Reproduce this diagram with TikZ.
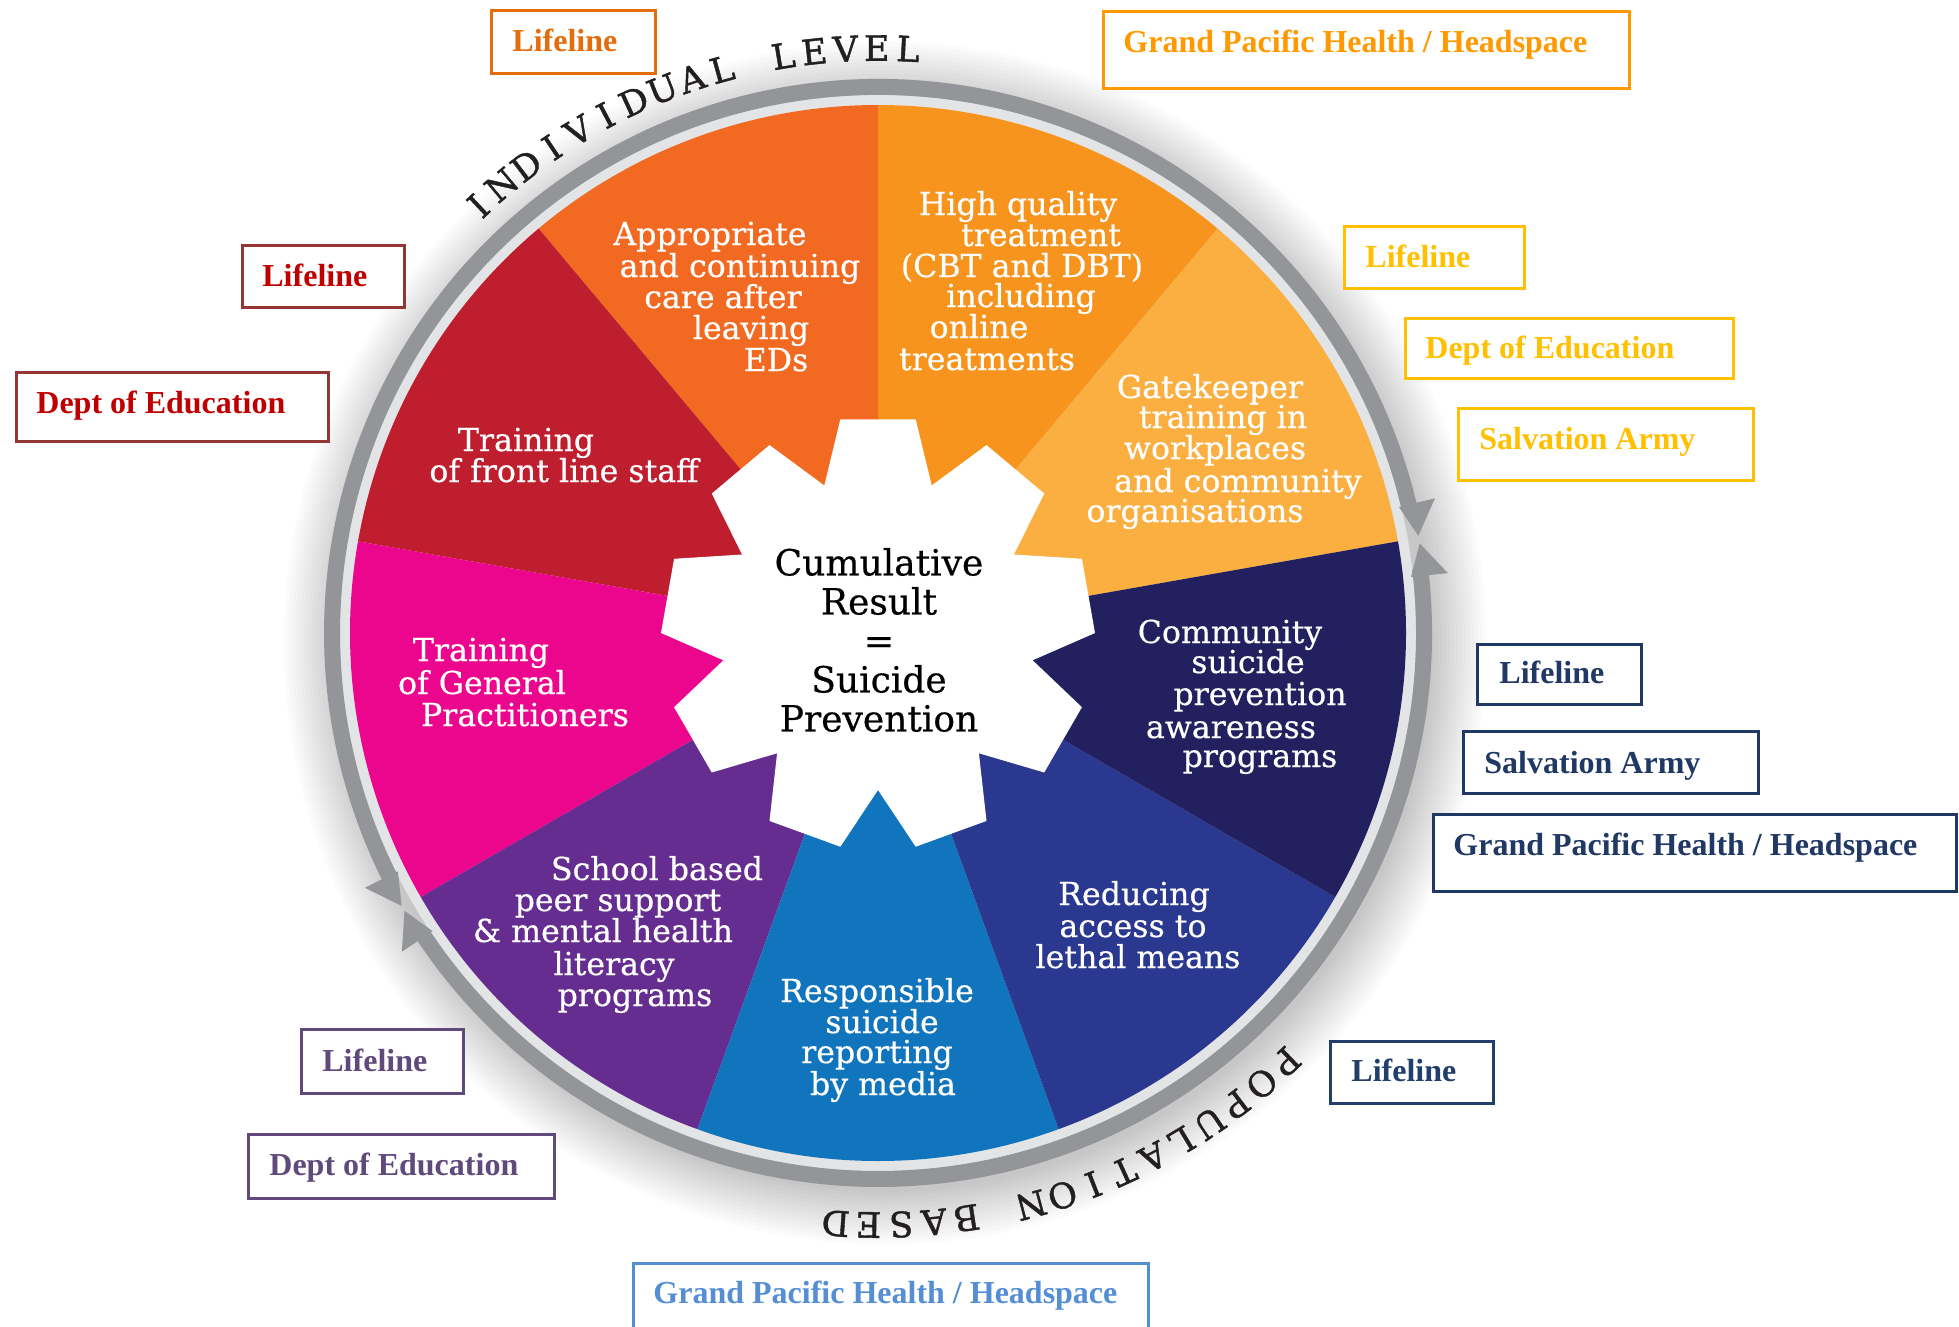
\documentclass[tikz,border=0pt]{standalone}
\usepackage{fontspec}
\setmainfont{Liberation Serif}
\newfontfamily\wheelfont{DejaVu Serif}[FakeBold=0.5]
\newfontfamily\arcfont{DejaVu Serif}[FakeBold=1.2]
\definecolor{sHigh}{HTML}{F7941D}
\definecolor{sApp}{HTML}{F26A21}
\definecolor{sFront}{HTML}{BE1E2D}
\definecolor{sGP}{HTML}{EC068D}
\definecolor{sSchool}{HTML}{652D90}
\definecolor{sMedia}{HTML}{1175BE}
\definecolor{sLethal}{HTML}{2A3890}
\definecolor{sComm}{HTML}{23205F}
\definecolor{sGate}{HTML}{FBAF41}
\definecolor{bandgrey}{HTML}{E3E4E5}
\definecolor{ringgrey}{HTML}{939598}
\definecolor{arcblack}{HTML}{231F20}
\definecolor{cOrange}{HTML}{E46C0A}
\definecolor{cGPH}{HTML}{FF9900}
\definecolor{cRedB}{HTML}{943634}
\definecolor{cRed}{HTML}{C00000}
\definecolor{cYel}{HTML}{FFC000}
\definecolor{cNavy}{HTML}{1F3864}
\definecolor{cNavyB}{HTML}{223F6B}
\definecolor{cPur}{HTML}{604A7B}
\definecolor{cLBlue}{HTML}{558ED5}
\begin{document}
\begin{tikzpicture}[x=0.5pt,y=-0.5pt,
  lbox/.style={draw=#1, line width=1.4pt, fill=white, inner sep=0pt, anchor=north west},
  ltext/.style={text=#1, font=\bfseries\fontsize{16pt}{18pt}\selectfont, anchor=base west, inner sep=0pt},
  wt/.style={text=white, font=\wheelfont\fontsize{15.8pt}{16pt}\selectfont, anchor=base, inner sep=0pt},
  arcl/.style={text=arcblack, font=\arcfont\fontsize{17.5pt}{18pt}\selectfont, inner sep=0pt, anchor=center}]
\fill[white] (0,0) rectangle (1959,1327);
\useasboundingbox (0,0) rectangle (1959,1327);

\begin{scope}[shift={(878,633)}, yscale=-1]
  % soft shadow
  \foreach \k in {0,...,13}
    \fill[black, opacity=0.016] (7,-10) circle[radius={549+4*\k}];
  % light band
  \fill[bandgrey] (0,0) circle[radius=538];
  % arrow ring (top arc: individual level)
  \draw[ringgrey, line width=8pt] (13.3:546) arc[start angle=13.3, end angle=206.7, radius=546];
  \fill[ringgrey] (10.2:549) -- (13.6:536) -- (13.6:573) -- cycle;
  \fill[ringgrey] (209.8:549) -- (206.4:536) -- (206.4:573) -- cycle;
  % arrow ring (bottom arc: population based)
  \draw[ringgrey, line width=8pt] (6.7:546) arc[start angle=6.7, end angle=-146.7, radius=546];
  \fill[ringgrey] (9.4:549) -- (6.0:536) -- (6.0:573) -- cycle;
  \fill[ringgrey] (-149.6:549) -- (-146.2:536) -- (-146.2:573) -- cycle;
  % pie
  \foreach \a/\col in {10/sGate,50/sHigh,90/sApp,130/sFront,170/sGP,210/sSchool,250/sMedia,290/sLethal,330/sComm}
    \fill[\col] (0,0) -- (\a:528) arc[start angle=\a, delta angle=40, radius=528] -- cycle;
  % gear
  \fill[white] (110:157) \foreach \t in {90,50,...,-230} { -- ({\t+10}:217) -- ({\t-10}:217) -- ({\t-20}:157) } -- cycle;
  % curved labels
  \foreach \ch [count=\i from 0] in {I,N,D,I,V,I,D,U,A,L,{},L,E,V,E,L}
    \node[arcl, rotate={133.1-\i*3.07-90}] (top\i) at ({133.1-\i*3.07}:585) {\ch};
  \foreach \ch [count=\i from 0] in {P,O,P,U,L,A,T,I,O,N,{},B,A,S,E,D}
    \node[arcl, rotate={-46.4-\i*3.18-90}] (bot\i) at ({-46.4-\i*3.18}:592) {\ch};
\end{scope}

% centre text
\node[font=\wheelfont\fontsize{18pt}{19.5pt}\selectfont, align=center, text=black, inner sep=0pt] (ctr) at (879,640) {Cumulative\\Result\\=\\Suicide\\Prevention};

% segment texts
\node[wt] (a1) at (710,245) {Appropriate};
\node[wt] (a2) at (740,277) {and continuing};
\node[wt] (a3) at (723,308) {care after};
\node[wt] (a4) at (751,339) {leaving};
\node[wt] (a5) at (776,371) {EDs};

\node[wt] (h1) at (1018,215) {High quality};
\node[wt] (h2) at (1041,246) {treatment};
\node[wt] (h3) at (1022,277) {(CBT and DBT)};
\node[wt] (h4) at (1021,307) {including};
\node[wt] (h5) at (979,338) {online};
\node[wt] (h6) at (987,370) {treatments};

\node[wt] (g1) at (1210,398) {Gatekeeper};
\node[wt] (g2) at (1223,428) {training in};
\node[wt] (g3) at (1215,459) {workplaces};
\node[wt] (g4) at (1238,492) {and community};
\node[wt] (g5) at (1195,522) {organisations};

\node[wt] (c1) at (1230,643) {Community};
\node[wt] (c2) at (1248,673) {suicide};
\node[wt] (c3) at (1260,705) {prevention};
\node[wt] (c4) at (1231,738) {awareness};
\node[wt] (c5) at (1260,767) {programs};

\node[wt] (r1) at (1134,905) {Reducing};
\node[wt] (r2) at (1133,937) {access to};
\node[wt] (r3) at (1138,968) {lethal means};

\node[wt] (m1) at (877,1002) {Responsible};
\node[wt] (m2) at (882,1033) {suicide};
\node[wt] (m3) at (877,1063) {reporting};
\node[wt] (m4) at (883,1095) {by media};

\node[wt] (s1) at (657,880) {School based};
\node[wt] (s2) at (618,911) {peer support};
\node[wt] (s3) at (603,942) {\& mental health};
\node[wt] (s4) at (614,975) {literacy};
\node[wt] (s5) at (635,1006) {programs};

\node[wt] (p1) at (481,661) {Training};
\node[wt] (p2) at (482,694) {of General};
\node[wt] (p3) at (525,726) {Practitioners};

\node[wt] (f1) at (526,451) {Training};
\node[wt] (f2) at (564,482) {of front line staff};

% label boxes
\node[lbox=cOrange, minimum width=82pt, minimum height=31.5pt] (b1) at (490,9) {};
\node[ltext=cOrange] (t1) at (512,52) {Lifeline};
\node[lbox=cGPH, minimum width=263pt, minimum height=38.5pt] (b2) at (1102,10) {};
\node[ltext=cGPH] (t2) at (1123,53) {Grand Pacific Health / Headspace};
\node[lbox=cRedB, minimum width=81pt, minimum height=31pt] (b3) at (241,244) {};
\node[ltext=cRed] (t3) at (262,286) {Lifeline};
\node[lbox=cRedB, minimum width=156pt, minimum height=34.5pt] (b4) at (15,371) {};
\node[ltext=cRed] (t4) at (36,413) {Dept of Education};
\node[lbox=cYel, minimum width=90pt, minimum height=31pt] (b5) at (1343,225) {};
\node[ltext=cYel] (t5) at (1365,267) {Lifeline};
\node[lbox=cYel, minimum width=164pt, minimum height=30pt] (b6) at (1404,317) {};
\node[ltext=cYel] (t6) at (1425,358) {Dept of Education};
\node[lbox=cYel, minimum width=147.5pt, minimum height=36pt] (b7) at (1457,407) {};
\node[ltext=cYel] (t7) at (1479,449) {Salvation Army};
\node[lbox=cNavy, minimum width=82pt, minimum height=30pt] (b8) at (1476,643) {};
\node[ltext=cNavy] (t8) at (1499,683) {Lifeline};
\node[lbox=cNavy, minimum width=147.5pt, minimum height=31pt] (b9) at (1462,730) {};
\node[ltext=cNavy] (t9) at (1484,773) {Salvation Army};
\node[lbox=cNavy, minimum width=261.5pt, minimum height=38.5pt] (b10) at (1432,813) {};
\node[ltext=cNavy] (t10) at (1453,855) {Grand Pacific Health / Headspace};
\node[lbox=cNavyB, minimum width=81.5pt, minimum height=31pt] (b11) at (1329,1040) {};
\node[ltext=cNavyB] (t11) at (1351,1081) {Lifeline};
\node[lbox=cPur, minimum width=81pt, minimum height=32pt] (b12) at (300,1028) {};
\node[ltext=cPur] (t12) at (322,1071) {Lifeline};
\node[lbox=cPur, minimum width=153pt, minimum height=32pt] (b13) at (247,1133) {};
\node[ltext=cPur] (t13) at (269,1175) {Dept of Education};
\node[lbox=cLBlue, minimum width=257.5pt, minimum height=40pt] (b14) at (632,1262) {};
\node[ltext=cLBlue] (t14) at (653,1303) {Grand Pacific Health / Headspace};
\end{tikzpicture}
\end{document}
